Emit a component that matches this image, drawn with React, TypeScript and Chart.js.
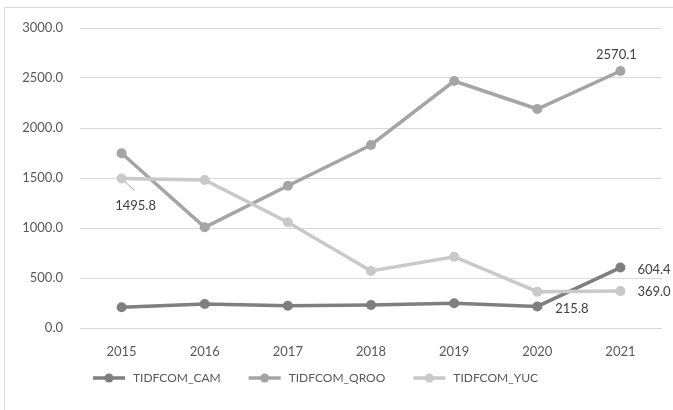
import React, { useEffect, useRef } from "react";
import { Chart, registerables } from "chart.js";

Chart.register(...registerables);

const years = ["2015", "2016", "2017", "2018", "2019", "2020", "2021"];
const seriesNames = ["TIDFCOM_CAM", "TIDFCOM_QROO", "TIDFCOM_YUC"];
const camValues = [207, 240, 223, 230, 247, 215.8, 604.4];
const qrooValues = [1747, 1007, 1423, 1830, 2470, 2190, 2570.1];
const yucValues = [1495.8, 1480, 1057, 570, 713, 363, 369.0];
const seriesColors = ["#7f7f7f", "#a5a5a5", "#c9c9c9"];
const yTicksMax = 3000;
const yTicksStep = 500;

// Values that carry a printed label: [series index, year index, dx, dy, align]
const labelled: [number, number, number, number, CanvasTextAlign][] = [
  [2, 0, 14, 27, "center"],
  [1, 6, -4, -16, "center"],
  [0, 6, 17, 2, "left"],
  [2, 6, 17, 1, "left"],
  [0, 5, 18, 2, "left"],
];

const FONT = "Lato, 'Open Sans', sans-serif";

const valueLabels = {
  id: "valueLabels",
  afterDatasetsDraw(chart: any) {
    const ctx = chart.ctx;
    ctx.save();
    ctx.font = `13px ${FONT}`;
    ctx.fillStyle = "#404040";
    ctx.textBaseline = "middle";
    labelled.forEach(([ds, idx, dx, dy, align]) => {
      const pt = chart.getDatasetMeta(ds).data[idx];
      const v = chart.data.datasets[ds].data[idx] as number;
      if (ds === 2 && idx === 0) {
        // leader line from the point down to its label
        ctx.strokeStyle = "#a6a6a6";
        ctx.lineWidth = 1;
        ctx.beginPath();
        ctx.moveTo(pt.x + 3, pt.y + 3);
        ctx.lineTo(pt.x + 13, pt.y + 12);
        ctx.stroke();
      }
      ctx.textAlign = align;
      ctx.fillText(v.toFixed(1), pt.x + dx, pt.y + dy);
    });
    ctx.restore();
  },
};

const lineLegend = {
  id: "lineLegend",
  afterDraw(chart: any) {
    const ctx = chart.ctx;
    ctx.save();
    ctx.font = `12px ${FONT}`;
    ctx.textBaseline = "middle";
    ctx.textAlign = "left";
    let x = 93;
    const y = 378;
    seriesNames.forEach((name, i) => {
      ctx.strokeStyle = seriesColors[i];
      ctx.lineWidth = 3.5;
      ctx.beginPath();
      ctx.moveTo(x, y);
      ctx.lineTo(x + 32, y);
      ctx.stroke();
      ctx.fillStyle = seriesColors[i];
      ctx.beginPath();
      ctx.arc(x + 16, y, 4.5, 0, Math.PI * 2);
      ctx.fill();
      ctx.fillStyle = "#595959";
      ctx.fillText(name, x + 40, y);
      x += 40 + ctx.measureText(name).width + 28;
    });
    ctx.restore();
  },
};

export default function App() {
  const ref = useRef<HTMLCanvasElement>(null);

  useEffect(() => {
    if (!ref.current) return;
    const values = [camValues, qrooValues, yucValues];
    const chart = new Chart(ref.current, {
      type: "line",
      data: {
        labels: years,
        datasets: seriesNames.map((name, i) => ({
          label: name,
          data: values[i],
          borderColor: seriesColors[i],
          backgroundColor: seriesColors[i],
          borderWidth: 3.5,
          pointRadius: 5,
          pointBorderWidth: 0,
          pointBackgroundColor: seriesColors[i],
          tension: 0,
          order: 2 - i,
        })),
      },
      options: {
        responsive: false,
        animation: false,
        devicePixelRatio: 1,
        layout: { padding: { left: 0, top: 28, right: 11, bottom: 0 } },
        plugins: { legend: { display: false }, tooltip: { enabled: false } },
        scales: {
          x: {
            offset: true,
            grid: { display: false, drawTicks: false },
            border: { display: false },
            ticks: { color: "#595959", font: { family: FONT, size: 13 }, padding: 16, maxRotation: 0 },
            afterFit(s: any) {
              s.height = 82;
            },
          },
          y: {
            min: 0,
            max: yTicksMax,
            grid: { color: "#d9d9d9", lineWidth: 1, drawTicks: false },
            border: { display: false },
            ticks: {
              stepSize: yTicksStep,
              color: "#595959",
              font: { family: FONT, size: 13 },
              padding: 17,
              callback: (v: any) => Number(v).toFixed(1),
            },
            afterFit(s: any) {
              s.width = 80;
            },
          },
        },
      },
      plugins: [valueLabels, lineLegend],
    });
    return () => chart.destroy();
  }, []);

  return (
    <div style={{ position: "fixed", left: 0, top: 0, width: 673, height: 410, overflow: "hidden", background: "#fff" }}>
      <div
        style={{
          position: "absolute",
          left: 4,
          top: 7,
          width: 720,
          height: 460,
          borderLeft: "1px solid #d9d9d9",
          borderTop: "1px solid #d9d9d9",
        }}
      />
      <canvas ref={ref} width={673} height={410} style={{ position: "absolute", left: 0, top: 0 }} />
    </div>
  );
}
